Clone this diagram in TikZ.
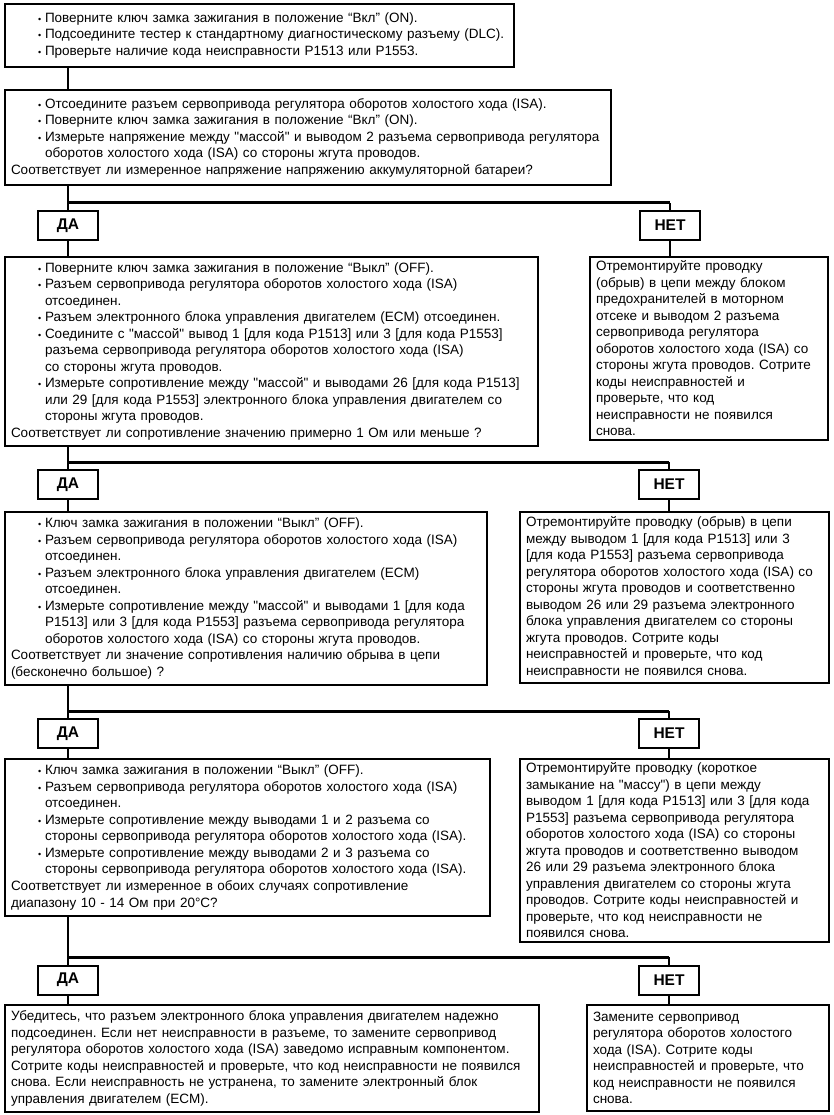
\documentclass[tikz,border=0pt]{standalone}
\usepackage{fontspec}
\setmainfont{Liberation Sans}[Ligatures=TeXOff]
\usetikzlibrary{positioning, calc}
\newcommand{\bul}{\makebox[34pt][l]{\hspace{27pt}{\small\textbullet}}}
\newcommand{\cont}{\hspace*{34pt}}
\frenchspacing

\begin{document}
\begin{tikzpicture}[
      x=1pt, y=-1pt,
      box/.style  = {draw, line width=2pt, anchor=north west,
                     inner xsep=6pt, inner ysep=0pt, align=left,
                     font=\fontsize{13.5pt}{16.5pt}\selectfont},
      ans/.style  = {draw, line width=2pt, minimum width=60pt,
                     minimum height=29pt, inner sep=0pt,
                     font=\fontsize{15.5pt}{16pt}\selectfont\bfseries},
      link/.style = {line width=2pt},
      bus/.style  = {line width=3pt},
    ]
    \fill[white] (0,0) rectangle (833,1115);
    \useasboundingbox (0,0) rectangle (833,1115);
    %% ── Проверки (левая колонка) ───────────────────────────────
    \node[box, text width=497pt, minimum height=63pt] (b1) at (4,3) {
      \bul Поверните ключ замка зажигания в положение “Вкл” (ON).\\
      \bul Подсоедините тестер к стандартному диагностическому разъему (DLC).\\
      \bul Проверьте наличие кода неисправности P1513 или P1553.
    };
    \node[box, text width=594pt, minimum height=95pt] (b2) at (4,89) {
      \bul Отсоедините разъем сервопривода регулятора оборотов холостого хода (ISA).\\
      \bul Поверните ключ замка зажигания в положение “Вкл” (ON).\\
      \bul Измерьте напряжение между "массой" и выводом 2 разъема сервопривода регулятора\\
      \cont оборотов холостого хода (ISA) со стороны жгута проводов.\\
      Соответствует ли измеренное напряжение напряжению аккумуляторной батареи?
    };
    \node[box, text width=521pt, minimum height=189pt] (b3) at (4,256) {
      \bul Поверните ключ замка зажигания в положение “Выкл” (OFF).\\
      \bul Разъем сервопривода регулятора оборотов холостого хода (ISA)\\
      \cont отсоединен.\\
      \bul Разъем электронного блока управления двигателем (ECM) отсоединен.\\
      \bul Соедините с "массой" вывод 1 [для кода P1513] или 3 [для кода P1553]\\
      \cont разъема сервопривода регулятора оборотов холостого хода (ISA)\\
      \cont со стороны жгута проводов.\\
      \bul Измерьте сопротивление между "массой" и выводами 26 [для кода P1513]\\
      \cont или 29 [для кода P1553] электронного блока управления двигателем со\\
      \cont стороны жгута проводов.\\
      Соответствует ли сопротивление значению примерно 1 Ом или меньше ?
    };
    \node[box, text width=470pt, minimum height=173pt] (b4) at (4,511) {
      \bul Ключ замка зажигания в положении “Выкл” (OFF).\\
      \bul Разъем сервопривода регулятора оборотов холостого хода (ISA)\\
      \cont отсоединен.\\
      \bul Разъем электронного блока управления двигателем (ECM)\\
      \cont отсоединен.\\
      \bul Измерьте сопротивление между "массой" и выводами 1 [для кода\\
      \cont P1513] или 3 [для кода P1553] разъема сервопривода регулятора\\
      \cont оборотов холостого хода (ISA) со стороны жгута проводов.\\
      Соответствует ли значение сопротивления наличию обрыва в цепи\\
      (бесконечно большое) ?
    };
    \node[box, text width=473pt, minimum height=157pt] (b5) at (4,758) {
      \bul Ключ замка зажигания в положении “Выкл” (OFF).\\
      \bul Разъем сервопривода регулятора оборотов холостого хода (ISA)\\
      \cont отсоединен.\\
      \bul Измерьте сопротивление между выводами 1 и 2 разъема со\\
      \cont стороны сервопривода регулятора оборотов холостого хода (ISA).\\
      \bul Измерьте сопротивление между выводами 2 и 3 разъема со\\
      \cont стороны сервопривода регулятора оборотов холостого хода (ISA).\\
      Соответствует ли измеренное в обоих случаях сопротивление\\
      диапазону 10 - 14 Ом при 20°C?
    };
    \node[box, text width=522pt, minimum height=107pt] (b6) at (4,1004) {
      Убедитесь, что разъем электронного блока управления двигателем надежно\\
      подсоединен. Если нет неисправности в разъеме, то замените сервопривод\\
      регулятора оборотов холостого хода (ISA) заведомо исправным компонентом.\\
      Сотрите коды неисправностей и проверьте, что код неисправности не появился\\
      снова. Если неисправность не устранена, то замените электронный блок\\
      управления двигателем (ECM).
    };
    %% ── Ремонт (правая колонка) ────────────────────────────────
    \node[box, text width=226pt, minimum height=183pt] (n3) at (589,256) {
      Отремонтируйте проводку\\
      (обрыв) в цепи между блоком\\
      предохранителей в моторном\\
      отсеке и выводом 2 разъема\\
      сервопривода регулятора\\
      оборотов холостого хода (ISA) со\\
      стороны жгута проводов. Сотрите\\
      коды неисправностей и\\
      проверьте, что код\\
      неисправности не появился\\
      снова.
    };
    \node[box, text width=297pt, minimum height=171pt] (n4) at (519,511) {
      Отремонтируйте проводку (обрыв) в цепи\\
      между выводом 1 [для кода P1513] или 3\\
      {[}для кода P1553] разъема сервопривода\\
      регулятора оборотов холостого хода (ISA) со\\
      стороны жгута проводов и соответственно\\
      выводом 26 или 29 разъема электронного\\
      блока управления двигателем со стороны\\
      жгута проводов. Сотрите коды\\
      неисправностей и проверьте, что код\\
      неисправности не появился снова.
    };
    \node[box, text width=297pt, minimum height=183pt] (n5) at (519,758) {
      Отремонтируйте проводку (короткое\\
      замыкание на "массу") в цепи между\\
      выводом 1 [для кода P1513] или 3 [для кода\\
      P1553] разъема сервопривода регулятора\\
      оборотов холостого хода (ISA) со стороны\\
      жгута проводов и соответственно выводом\\
      26 или 29 разъема электронного блока\\
      управления двигателем со стороны жгута\\
      проводов. Сотрите коды неисправностей и\\
      проверьте, что код неисправности не\\
      появился снова.
    };
    \node[box, text width=230pt, minimum height=106pt] (n6) at (586,1004) {
      Замените сервопривод\\
      регулятора оборотов холостого\\
      хода (ISA). Сотрите коды\\
      неисправностей и проверьте, что\\
      код неисправности не появился\\
      снова.
    };
    %% ── Ответы ДА / НЕТ ────────────────────────────────────────
    \node[ans] (da1)  at (68,225.5)  {ДА};
    \node[ans] (net1) at (670,225.5) {НЕТ};
    \node[ans] (da2)  at (68,484.5)  {ДА};
    \node[ans] (net2) at (669,484.5) {НЕТ};
    \node[ans] (da3)  at (68,733.5)  {ДА};
    \node[ans] (net3) at (669,733.5) {НЕТ};
    \node[ans] (da4)  at (68,980)    {ДА};
    \node[ans] (net4) at (669,980)   {НЕТ};
    \coordinate (j1) at (68,203);
    \coordinate (j2) at (68,462);
    \coordinate (j3) at (68,711);
    \coordinate (j4) at (68,957);
    %% ── Линии ──────────────────────────────────────────────────
    \draw[link] (da1 |- b1.south) -- (da1 |- b2.north);
    \draw[link] (da1 |- b2.south) -- (da1.north);
    \draw[link] (da1.south) -- (da1 |- b3.north);
    \draw[link] (da2 |- b3.south) -- (da2.north);
    \draw[link] (da2.south) -- (da2 |- b4.north);
    \draw[link] (da3 |- b4.south) -- (da3.north);
    \draw[link] (da3.south) -- (da3 |- b5.north);
    \draw[link] (da4 |- b5.south) -- (da4.north);
    \draw[link] (da4.south) -- (da4 |- b6.north);
    \draw[bus] (j1) -- (j1 -| net1);
    \draw[bus] (j2) -- (j2 -| net2);
    \draw[bus] (j3) -- (j3 -| net3);
    \draw[bus] (j4) -- (j4 -| net4);
    \draw[link] (j1 -| net1) -- (net1.north);
    \draw[link] (j2 -| net2) -- (net2.north);
    \draw[link] (j3 -| net3) -- (net3.north);
    \draw[link] (j4 -| net4) -- (net4.north);
    \draw[link] (net1.south) -- (net1 |- n3.north);
    \draw[link] (net2.south) -- (net2 |- n4.north);
    \draw[link] (net3.south) -- (net3 |- n5.north);
    \draw[link] (net4.south) -- (net4 |- n6.north);
  \end{tikzpicture}
\end{document}
